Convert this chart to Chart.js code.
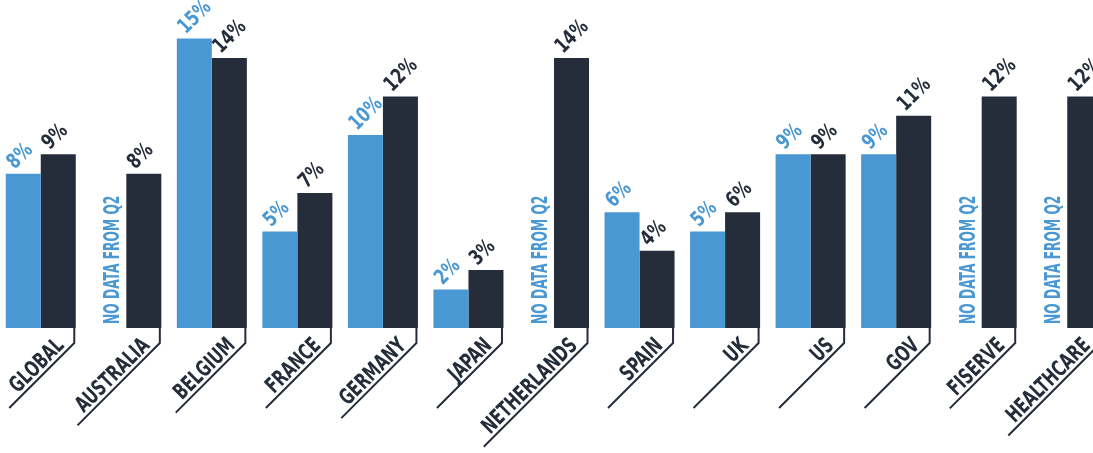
<!DOCTYPE html>
<html>
<head>
<meta charset="utf-8">
<script src="https://cdn.jsdelivr.net/npm/chart.js@4.4.0/dist/chart.umd.min.js"></script>
<style>
html,body{margin:0;padding:0;background:#fff;overflow:hidden;}
#wrap{position:absolute;left:-2px;top:0;width:1112px;height:453px;}
</style>
</head>
<body>
<div id="wrap"><canvas id="myChart"></canvas></div>
<script>
// data
var categories = ['GLOBAL','AUSTRALIA','BELGIUM','FRANCE','GERMANY','JAPAN','NETHERLANDS','SPAIN','UK','US','GOV','FISERVE','HEALTHCARE'];
var q2Values = [8, null, 15, 5, 10, 2, null, 6, 5, 9, 9, null, null];
var q3Values = [9, 8, 14, 7, 12, 3, 14, 4, 6, 9, 11, 12, 12];
var noDataText = 'NO DATA FROM Q2';

var BLUE = '#4a98d3';
var DARK = '#262d3a';
var FONT = '"Liberation Sans Narrow", "DejaVu Sans Condensed", sans-serif';

function drawText(ctx, str, x, y, angle, align, size, sx, color){
    ctx.save();
    ctx.translate(x, y);
    ctx.rotate(angle);
    ctx.scale(sx, 1);
    ctx.font = 'bold ' + size + 'px ' + FONT;
    ctx.fillStyle = color;
    ctx.textAlign = align;
    ctx.textBaseline = 'alphabetic';
    ctx.fillText(str, 0, 0);
    ctx.restore();
}

var decoPlugin = {
    id: 'deco',
    afterDatasetsDraw: function(chart){
        var ctx = chart.ctx;
        var m0 = chart.getDatasetMeta(0);
        var m1 = chart.getDatasetMeta(1);
        var r2 = Math.SQRT1_2;
        for(var i = 0; i < categories.length; i++){
            var dark = m1.data[i];
            // value labels
            if(q2Values[i] !== null){
                var b = m0.data[i];
                drawText(ctx, q2Values[i] + '%', b.x - b.width/2 + 9, b.y - 4, -Math.PI/4, 'left', 21, 0.82, BLUE);
            }else{
                var nx = dark.x - dark.width;
                drawText(ctx, noDataText, nx + 10.5, dark.base - 4, -Math.PI/2, 'left', 22, 0.62, BLUE);
            }
            drawText(ctx, q3Values[i] + '%', dark.x - dark.width/2 + 9, dark.y - 4, -Math.PI/4, 'left', 21, 0.82, DARK);

            // category label with bracket line
            var cx = dark.x + dark.width/2 - 1.5;
            var cy = dark.base + 15;
            ctx.save();
            ctx.font = 'bold 22px ' + FONT;
            var w = ctx.measureText(categories[i]).width * 0.76;
            ctx.restore();
            var len = Math.max(92, w + 22);
            ctx.save();
            ctx.strokeStyle = DARK;
            ctx.lineWidth = 2;
            ctx.beginPath();
            ctx.moveTo(cx, dark.base);
            ctx.lineTo(cx, cy);
            ctx.lineTo(cx - len*r2, cy + len*r2);
            ctx.stroke();
            ctx.restore();
            var s = 9, g = 4;
            var px = cx - s*r2 - g*r2;
            var py = cy + s*r2 - g*r2;
            drawText(ctx, categories[i], px, py, -Math.PI/4, 'right', 22, 0.76, DARK);
        }
    }
};

var ctx = document.getElementById('myChart').getContext('2d');
var myChart = new Chart(ctx, {
    type: 'bar',
    data: {
        labels: categories,
        datasets: [{
            label: 'Q2',
            data: q2Values,
            backgroundColor: BLUE
        },{
            label: 'Q3',
            data: q3Values,
            backgroundColor: DARK
        }]
    },
    options: {
        responsive: true,
        maintainAspectRatio: false,
        animation: false,
        layout: { padding: { top: 0, bottom: 125, left: 0, right: 0 } },
        datasets: { bar: { categoryPercentage: 0.8187, barPercentage: 1 } },
        scales: {
            x: { display: false },
            y: { display: false, min: 0, max: 17 }
        },
        plugins: {
            legend: { display: false },
            tooltip: { enabled: false }
        }
    },
    plugins: [decoPlugin]
});
</script>
</body>
</html>
